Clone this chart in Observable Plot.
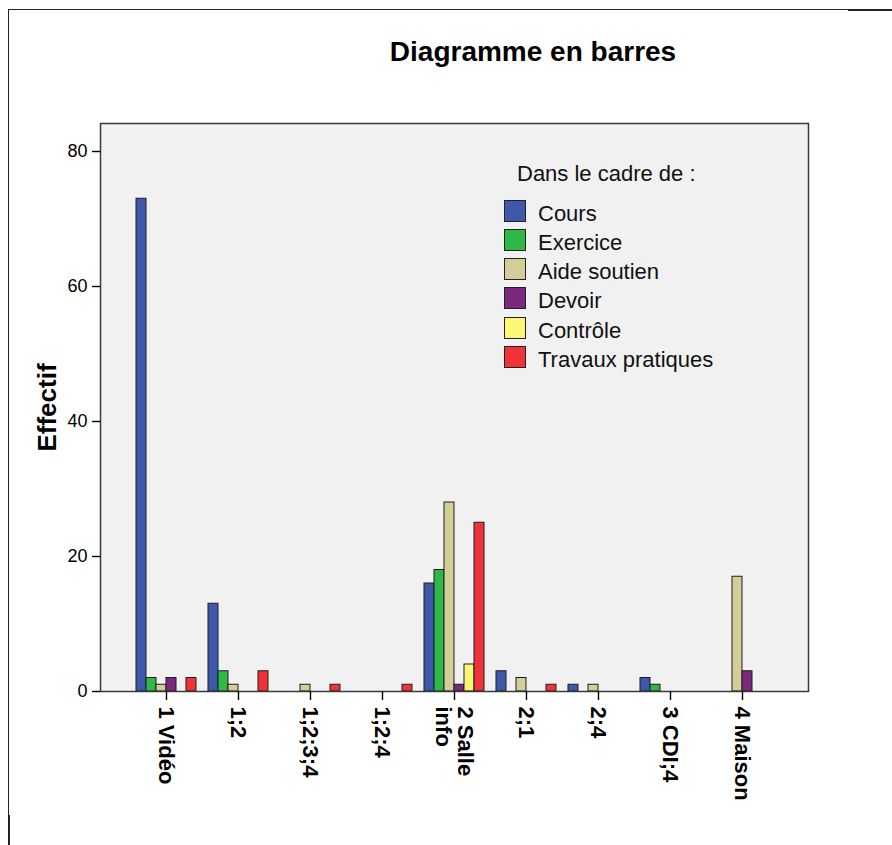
<!DOCTYPE html>
<html>
<head>
<meta charset="utf-8">
<script src="https://cdn.jsdelivr.net/npm/d3@7"></script>
<script src="https://cdn.jsdelivr.net/npm/@observablehq/plot@0.6"></script>
<style>
  html, body { margin: 0; padding: 0; background: #fff; }
  body { font-family: "Liberation Sans", Arial, sans-serif; color: #000; }
  #wrap { position: relative; width: 892px; height: 845px; overflow: hidden; background: #fff; }
  #chart { position: absolute; left: 0; top: 0; }
  #title { position: absolute; left: 233px; width: 600px; top: 38px; text-align: center;
           font-size: 28px; font-weight: bold; line-height: 1; }
  .leg-head { position: absolute; left: 517px; top: 163px; font-size: 22px; line-height: 1; color: #111; }
  .leg-sw { position: absolute; left: 504px; width: 22px; height: 22px; box-sizing: border-box;
            border: 1.5px solid #222; }
  .leg-lab { position: absolute; left: 538px; font-size: 22px; line-height: 1; color: #111; white-space: nowrap; }
  .bd { position: absolute; background: #222; }
</style>
</head>
<body>
<div id="wrap">
  <div id="chart"></div>
  <div id="title">Diagramme en barres</div>
  <div id="legend"></div>
  <div class="bd" style="left:8px;top:9px;width:840px;height:1px;"></div>
  <div class="bd" style="left:848px;top:9px;width:44px;height:2px;"></div>
  <div class="bd" style="left:8px;top:9px;width:1px;height:806px;"></div>
  <div class="bd" style="left:8px;top:815px;width:2px;height:30px;"></div>
</div>
<script>
// ---- Data ----
const categories = ["1 Vidéo", "1;2", "1;2;3;4", "1;2;4", "2 Salle info", "2;1", "2;4", "3 CDI;4", "4 Maison"];
const categoryTickLabels = ["1 Vidéo", "1;2", "1;2;3;4", "1;2;4", "2 Salle\ninfo", "2;1", "2;4", "3 CDI;4", "4 Maison"];
const series = ["Cours", "Exercice", "Aide soutien", "Devoir", "Contrôle", "Travaux pratiques"];
const seriesColors = ["#3e58ac", "#2eb848", "#d3ce97", "#7c287d", "#fbf873", "#ef3338"];

const cours        = [73, 13, 0, 0, 16, 3, 1, 2, 0];
const exercice     = [ 2,  3, 0, 0, 18, 0, 0, 1, 0];
const aideSoutien  = [ 1,  1, 1, 0, 28, 2, 1, 0, 17];
const devoir       = [ 2,  0, 0, 0,  1, 0, 0, 0, 3];
const controle     = [ 0,  0, 0, 0,  4, 0, 0, 0, 0];
const travauxPrat  = [ 2,  3, 1, 1, 25, 1, 0, 0, 0];

const yTicks = [0, 20, 40, 60, 80];
const yLabel = "Effectif";
const legendTitle = "Dans le cadre de :";

// ---- Build table ----
const seriesValues = [cours, exercice, aideSoutien, devoir, controle, travauxPrat];
const data = categories.flatMap((c, i) =>
  series.map((s, j) => ({ category: c, series: s, value: seriesValues[j][i] }))
).filter(d => d.value > 0);
const tickLabelOf = new Map(categories.map((c, i) => [c, categoryTickLabels[i]]));

const font = "Liberation Sans, Arial, sans-serif";
const W = 892, H = 845, mT = 123, mR = 84, mB = 154, mL = 100;
const fxPadInner = 0.139, fxPadOuter = 0.486;
// outer gap between the plot frame and the first/last facet band
const fxBand = d3.scaleBand().domain(categories).range([mL, W - mR]).paddingInner(fxPadInner).paddingOuter(fxPadOuter);
const gap = fxBand.step() * fxPadOuter;

const chart = Plot.plot({
  width: W,
  height: H,
  marginTop: mT,
  marginRight: mR,
  marginBottom: mB,
  marginLeft: mL,
  style: { background: "transparent", fontFamily: font, color: "#000", overflow: "visible" },
  fx: { domain: categories, paddingInner: fxPadInner, paddingOuter: fxPadOuter, label: null },
  x: { domain: series, padding: 0, axis: null },
  y: { domain: [0, 84.15], label: null },
  color: { domain: series, range: seriesColors },
  marks: [
    Plot.frame({ fill: "#f0f1f0", stroke: null, facet: "super", insetLeft: -gap, insetRight: -gap }),
    Plot.barY(data, { fx: "category", x: "series", y: "value", fill: "series", stroke: "#1e1e1e", strokeWidth: 1 }),
    Plot.frame({ stroke: "#3a3a3a", strokeWidth: 1.5, facet: "super", insetLeft: -gap, insetRight: -gap }),
    Plot.axisY({ ticks: yTicks, tickSize: 8, tickPadding: 5, fontSize: 18, strokeWidth: 1.4, label: null, dx: -gap }),
    Plot.axisY({ ticks: [], label: yLabel, labelAnchor: "center", labelOffset: 63 + gap, labelArrow: "none",
                 fontSize: 26, fontWeight: "bold" }),
    Plot.axisFx({ anchor: "bottom", tickSize: 9, tickPadding: 6, tickRotate: 90, fontSize: 22, fontWeight: "bold",
                  strokeWidth: 1.4, tickFormat: d => tickLabelOf.get(d), label: null })
  ]
});
document.getElementById("chart").appendChild(chart);

// ---- Legend ----
const legend = document.getElementById("legend");
const head = document.createElement("div");
head.className = "leg-head";
head.textContent = legendTitle;
legend.appendChild(head);
series.forEach((s, i) => {
  const sw = document.createElement("div");
  sw.className = "leg-sw";
  sw.style.top = (199.5 + 29.33 * i) + "px";
  sw.style.background = seriesColors[i];
  legend.appendChild(sw);
  const lab = document.createElement("div");
  lab.className = "leg-lab";
  lab.style.top = (202.5 + 29.33 * i) + "px";
  lab.textContent = s;
  legend.appendChild(lab);
});
</script>
</body>
</html>
